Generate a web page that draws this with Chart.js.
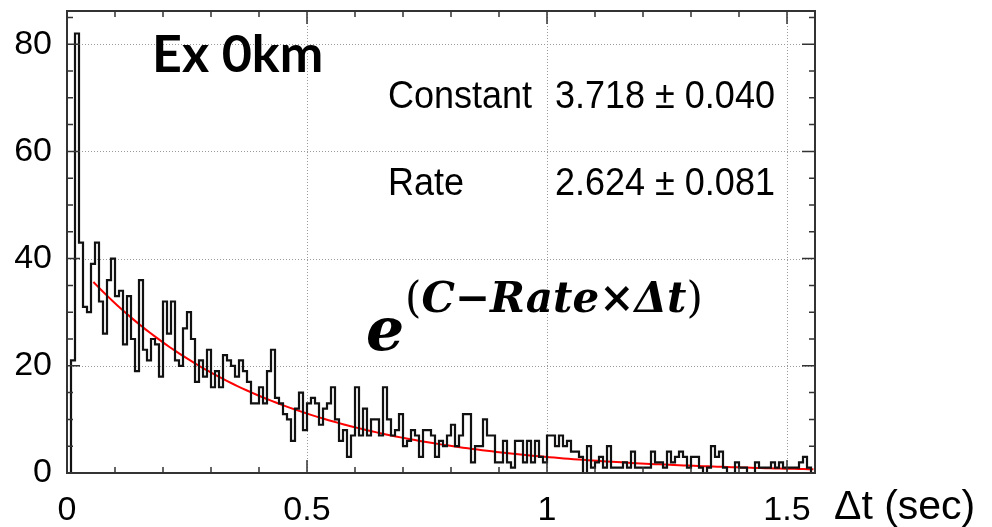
<!DOCTYPE html>
<html>
<head>
<meta charset="utf-8">
<script src="https://cdn.jsdelivr.net/npm/chart.js@4.4.1/dist/chart.umd.min.js"></script>
<style>
  html, body { margin: 0; padding: 0; background: #fff; }
  canvas { display: block; }
</style>
</head>
<body>
<canvas id="dtHist" width="992" height="527"></canvas>
<script>
// entries per bin of the time difference, bins of 1/120 s starting at 0
const binWidth = 1 / 120;
const counts = [
  0, 21, 82, 43, 31, 30, 39, 43, 32, 26, 36, 40, 33, 34, 24, 33, 25, 19, 36, 23,
  21, 25, 24, 18, 32, 26, 32, 21, 20, 27, 30, 25, 17, 21, 18, 23, 16, 19, 16, 22,
  21, 20, 18, 21, 19, 17, 13, 13, 16, 13, 19, 23, 14, 13, 11, 10, 6, 12, 15, 8,
  13, 14, 13, 9, 12, 13, 16, 10, 6, 8, 3, 7, 16, 7, 12, 7, 10, 10, 7, 16,
  10, 7, 8, 11, 5, 6, 8, 7, 3, 8, 8, 7, 3, 6, 5, 7, 9, 5, 7, 11,
  11, 2, 5, 5, 10, 7, 7, 2, 2, 6, 2, 1, 6, 6, 2, 6, 2, 6, 3, 2,
  7, 7, 5, 7, 5, 6, 4, 4, 3, 0, 5, 1, 2, 3, 1, 5, 1, 1, 1, 2,
  1, 4, 1, 1, 1, 1, 4, 2, 2, 1, 4, 2, 3, 4, 3, 1, 3, 3, 1, 0,
  1, 5, 3, 4, 1, 0, 0, 2, 1, 1, 0, 0, 2, 1, 1, 1, 2, 1, 2, 1,
  1, 1, 1, 2, 3, 1, 0
];

// exponential fit: exp(Constant - Rate * dt)
const fitConstant = 3.718;
const fitConstantErr = 0.040;
const fitRate = 2.624;
const fitRateErr = 0.081;
const fitStart = 0.055;
const fitStep = 0.01;

const xTickLabels = [0, 0.5, 1, 1.5];
const yTickLabels = [0, 20, 40, 60, 80];
const xMinorStep = 0.1;
const yMinorStep = 5;
const xMax = counts.length * binWidth;
const yMax = 86.2;

// bin left edges for a step-before line, plus the closing right edge
const histPoints = counts.map((c, i) => ({ x: i * binWidth, y: c }));
histPoints.push({ x: xMax, y: counts[counts.length - 1] });

const fitPoints = [];
for (let t = fitStart; t <= xMax + 1e-9; t += fitStep) {
  fitPoints.push({ x: t, y: Math.exp(fitConstant - fitRate * t) });
}

function fmt(v) {
  return v.toFixed(3);
}

// ROOT-like frame: dotted grid, inward ticks on all four sides, text boxes
const rootFrame = {
  id: 'rootFrame',
  beforeDatasetsDraw(chart) {
    const { ctx, chartArea: a, scales: { x, y } } = chart;
    ctx.save();
    ctx.strokeStyle = '#9a9a9a';
    ctx.lineWidth = 1;
    ctx.setLineDash([1, 2]);
    yTickLabels.forEach(v => {
      if (v === 0) return;
      const py = Math.round(y.getPixelForValue(v)) + 0.5;
      ctx.beginPath();
      ctx.moveTo(a.left, py);
      ctx.lineTo(a.right, py);
      ctx.stroke();
    });
    xTickLabels.forEach(v => {
      if (v === 0) return;
      const px = Math.round(x.getPixelForValue(v)) + 0.5;
      ctx.beginPath();
      ctx.moveTo(px, a.top);
      ctx.lineTo(px, a.bottom);
      ctx.stroke();
    });
    ctx.restore();
  },
  afterDatasetsDraw(chart) {
    const { ctx, chartArea: a, scales: { x, y } } = chart;
    const major = 13, minor = 6;
    ctx.save();
    ctx.strokeStyle = '#333';
    ctx.lineWidth = 1.5;
    ctx.beginPath();
    for (let v = 0; v <= yMax + 1e-9; v += yMinorStep) {
      const py = y.getPixelForValue(v);
      const len = yTickLabels.includes(v) ? major : minor;
      ctx.moveTo(a.left, py); ctx.lineTo(a.left + len, py);
      ctx.moveTo(a.right, py); ctx.lineTo(a.right - len, py);
    }
    for (let i = 0; i * xMinorStep <= xMax + 1e-9; i++) {
      const v = +(i * xMinorStep).toFixed(2);
      const px = x.getPixelForValue(v);
      const len = xTickLabels.includes(v) ? major : minor;
      ctx.moveTo(px, a.bottom); ctx.lineTo(px, a.bottom - len);
      ctx.moveTo(px, a.top); ctx.lineTo(px, a.top + len);
    }
    ctx.stroke();
    ctx.lineWidth = 2;
    ctx.strokeRect(a.left, a.top, a.right - a.left, a.bottom - a.top);
    ctx.restore();
  },
  afterDraw(chart) {
    const { ctx } = chart;
    ctx.save();
    ctx.fillStyle = '#000';
    ctx.textBaseline = 'alphabetic';
    ctx.textAlign = 'left';

    // sample label
    ctx.font = 'bold 52px Lato';
    ctx.fillText('Ex 0km', 152, 72);

    // fit parameters
    ctx.font = '36px "Liberation Sans"';
    const rows = [
      ['Constant', fmt(fitConstant) + ' \u00b1 ' + fmt(fitConstantErr), 108],
      ['Rate', fmt(fitRate) + ' \u00b1 ' + fmt(fitRateErr), 195]
    ];
    rows.forEach(([name, val, base]) => {
      ctx.save();
      ctx.translate(0, base);
      ctx.scale(1, 1.08);
      ctx.fillText(name, 388, 0);
      ctx.fillText(val, 555, 0);
      ctx.restore();
    });

    // fit function
    ctx.font = 'italic bold 60px "DejaVu Serif"';
    ctx.fillText('e', 366, 350);
    let cx = 405;
    const sup = [
      ['(', '42px "DejaVu Serif"'],
      ['C', 'italic bold 42px "DejaVu Serif"'],
      ['\u2212', 'bold 42px "DejaVu Serif"'],
      ['Rate', 'italic bold 42px "DejaVu Serif"'],
      ['\u00d7', 'bold 42px "DejaVu Serif"'],
      ['\u0394t', 'italic bold 42px "DejaVu Serif"'],
      [')', '42px "DejaVu Serif"']
    ];
    sup.forEach(([s, f]) => {
      ctx.font = f;
      ctx.fillText(s, cx, 312);
      cx += ctx.measureText(s).width;
    });

    // axis title
    ctx.font = '41px "Liberation Sans"';
    ctx.fillText('\u0394t (sec)', 834, 519);
    ctx.restore();
  }
};

new Chart(document.getElementById('dtHist'), {
  type: 'line',
  data: {
    datasets: [
      {
        data: histPoints,
        stepped: 'before',
        borderColor: '#111',
        borderWidth: 2.2,
        pointRadius: 0,
        fill: false
      },
      {
        data: fitPoints,
        borderColor: '#ff0000',
        borderWidth: 2,
        pointRadius: 0,
        tension: 0,
        fill: false
      }
    ]
  },
  options: {
    responsive: false,
    animation: false,
    layout: { padding: { left: 0, right: 177, top: 11, bottom: 0 } },
    plugins: { legend: { display: false }, tooltip: { enabled: false } },
    scales: {
      x: {
        type: 'linear',
        min: 0,
        max: xMax,
        afterBuildTicks: s => { s.ticks = xTickLabels.map(v => ({ value: v })); },
        afterFit: s => { s.height = 54; s.paddingLeft = 0; s.paddingRight = 0; },
        grid: { display: false, drawTicks: false },
        border: { display: false },
        ticks: {
          color: '#000',
          font: { family: 'Liberation Sans', size: 34 },
          padding: 17,
          maxRotation: 0,
          autoSkip: false,
          callback: v => String(v)
        }
      },
      y: {
        min: 0,
        max: yMax,
        afterBuildTicks: s => { s.ticks = yTickLabels.map(v => ({ value: v })); },
        afterFit: s => { s.width = 67; s.paddingTop = 0; s.paddingBottom = 0; },
        grid: { display: false, drawTicks: false },
        border: { display: false },
        ticks: {
          color: '#000',
          font: { family: 'Liberation Sans', size: 34 },
          padding: 15,
          autoSkip: false,
          callback: v => String(v)
        }
      }
    }
  },
  plugins: [rootFrame]
});
</script>
</body>
</html>
